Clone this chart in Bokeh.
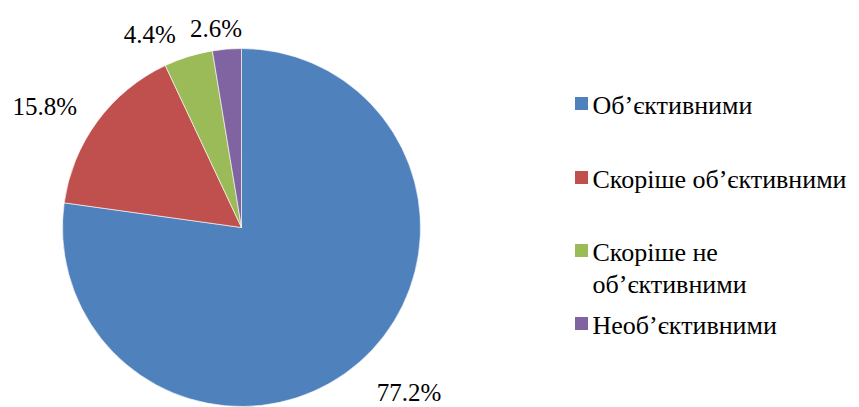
import numpy as np
from bokeh.plotting import figure
from bokeh.models import Range1d
from bokeh.core.properties import value
from bokeh.embed import file_html
from bokeh.resources import INLINE

# ---- data ----
categories = ["Об’єктивними", "Скоріше об’єктивними", "Скоріше не об’єктивними", "Необ’єктивними"]
shares = [77.2, 15.8, 4.4, 2.6]
pct_labels = ["77.2%", "15.8%", "4.4%", "2.6%"]
colors = ["#4F81BD", "#C0504D", "#9BBB59", "#8064A2"]
legend_lines = [["Об’єктивними"], ["Скоріше об’єктивними"], ["Скоріше не", "об’єктивними"], ["Необ’єктивними"]]

# ---- layout / style ----
W, H = 859, 407
FONT = "Liberation Serif"
LABEL_FS = "25px"
LEGEND_FS = "26px"
label_dist = [235, 231, 214, 201]        # distance of label centre from pie centre (px)
label_nudge_deg = [4.4, 4.8, 8.1, 2.6]   # best-fit rotation away from slice bisector
legend_row_y = [105, 179, 252, 325]      # first text line centre (screen px from top)
legend_line_gap = 32
sq_x, txt_x, sq = 581, 592, 13

def sx(x):
    return x

def sy(y):
    return H - y

p = figure(width=W, height=H, x_range=Range1d(0, W), y_range=Range1d(0, H),
           output_backend="svg", toolbar_location=None, min_border=0)
p.axis.visible = False
p.grid.visible = False
p.outline_line_color = None
p.background_fill_color = "white"

cx, cy, r = sx(241), sy(227), 179
frac = np.array(shares) / sum(shares)
ends = np.pi / 2 - 2 * np.pi * np.cumsum(frac)
starts = np.concatenate([[np.pi / 2], ends[:-1]])

p.wedge(x=cx, y=cy, radius=r, start_angle=starts, end_angle=ends, direction="clock",
        fill_color=colors, line_color="white", line_width=1, line_alpha=0.6)

# data labels outside each slice
mid = (starts + ends) / 2 + np.radians(label_nudge_deg)
lx = cx + np.array(label_dist) * np.cos(mid)
ly = cy + np.array(label_dist) * np.sin(mid)
for i in range(len(pct_labels)):
    p.text(x=[lx[i]], y=[ly[i]], text=[pct_labels[i]], text_align="center", text_baseline="middle",
           text_font=value(FONT), text_font_size=LABEL_FS, text_color="black")

# legend (manual)
for i, lines in enumerate(legend_lines):
    p.rect(x=[sx(sq_x)], y=[sy(legend_row_y[i] - 2)], width=sq, height=sq,
           fill_color=colors[i], line_color=None)
    for j, line in enumerate(lines):
        p.text(x=[sx(txt_x)], y=[sy(legend_row_y[i] + j * legend_line_gap)], text=[line],
               text_align="left", text_baseline="middle", text_font=value(FONT),
               text_font_size=LEGEND_FS, text_color="black")

open("out.html", "w").write(file_html(p, INLINE))
